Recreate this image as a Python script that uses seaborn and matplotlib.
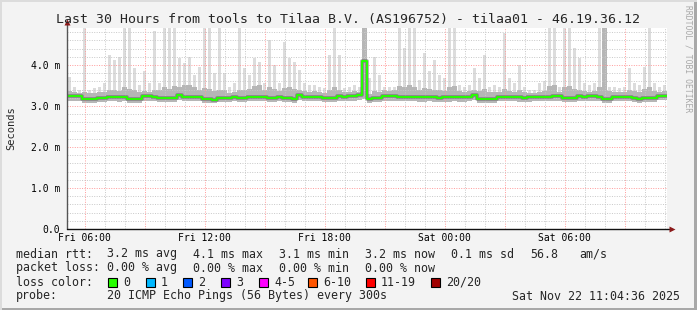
import numpy as np
import pandas as pd
import matplotlib
matplotlib.use("Agg")
import matplotlib.pyplot as plt
from matplotlib.patches import Rectangle
import seaborn as sns

# ---------------- data (ms, 15-minute bins, 30 hours from Fri 05:07) ----------------
rtt_median = [3.24, 3.24, 3.24, 3.17, 3.17, 3.18, 3.20, 3.20, 3.22, 3.22,
              3.21, 3.22, 3.17, 3.17, 3.18, 3.24, 3.24, 3.23, 3.19, 3.19,
              3.20, 3.19, 3.27, 3.22, 3.22, 3.23, 3.22, 3.17, 3.16, 3.15,
              3.19, 3.20, 3.20, 3.21, 3.20, 3.20, 3.23, 3.23, 3.22, 3.23,
              3.20, 3.20, 3.21, 3.20, 3.19, 3.18, 3.27, 3.23, 3.23, 3.22,
              3.23, 3.19, 3.19, 3.20, 3.24, 3.23, 3.24, 3.24, 3.26, 4.10,
              3.18, 3.19, 3.19, 3.25, 3.25, 3.24, 3.23, 3.22, 3.23, 3.22,
              3.21, 3.21, 3.22, 3.21, 3.20, 3.21, 3.21, 3.22, 3.21, 3.21,
              3.22, 3.27, 3.17, 3.17, 3.16, 3.17, 3.23, 3.23, 3.22, 3.22,
              3.21, 3.20, 3.21, 3.23, 3.23, 3.22, 3.23, 3.24, 3.24, 3.19,
              3.19, 3.20, 3.24, 3.23, 3.24, 3.24, 3.23, 3.17, 3.17, 3.23,
              3.22, 3.23, 3.23, 3.19, 3.18, 3.19, 3.19, 3.19, 3.25, 3.25]

rtt_min = [3.12, 3.11, 3.12, 3.07, 3.08, 3.08, 3.10, 3.10, 3.11, 3.11,
           3.10, 3.11, 3.07, 3.07, 3.08, 3.12, 3.12, 3.12, 3.09, 3.09,
           3.10, 3.09, 3.14, 3.11, 3.11, 3.12, 3.11, 3.07, 3.06, 3.06,
           3.09, 3.10, 3.10, 3.11, 3.10, 3.10, 3.12, 3.12, 3.11, 3.12,
           3.10, 3.10, 3.11, 3.10, 3.09, 3.08, 3.14, 3.12, 3.12, 3.11,
           3.12, 3.09, 3.09, 3.10, 3.13, 3.12, 3.13, 3.13, 3.14, 3.17,
           3.08, 3.09, 3.09, 3.13, 3.13, 3.12, 3.12, 3.11, 3.12, 3.11,
           3.10, 3.10, 3.11, 3.10, 3.09, 3.10, 3.10, 3.11, 3.10, 3.10,
           3.11, 3.14, 3.07, 3.07, 3.06, 3.07, 3.12, 3.12, 3.11, 3.11,
           3.10, 3.09, 3.10, 3.12, 3.12, 3.11, 3.12, 3.13, 3.13, 3.09,
           3.09, 3.10, 3.13, 3.12, 3.13, 3.13, 3.12, 3.07, 3.07, 3.12,
           3.11, 3.12, 3.12, 3.09, 3.08, 3.09, 3.09, 3.09, 3.14, 3.14]

rtt_q_hi = [3.36, 3.33, 3.32, 3.34, 3.31, 3.32, 3.33, 3.35, 3.38, 3.40,
            3.36, 3.45, 3.42, 3.38, 3.33, 3.36, 3.34, 3.40, 3.38, 3.45,
            3.42, 3.48, 3.45, 3.50, 3.52, 3.45, 3.40, 3.44, 3.42, 3.36,
            3.40, 3.38, 3.32, 3.34, 3.38, 3.40, 3.42, 3.48, 3.50, 3.40,
            3.45, 3.42, 3.36, 3.44, 3.46, 3.42, 3.40, 3.36, 3.34, 3.36,
            3.33, 3.32, 3.38, 3.45, 3.40, 3.33, 3.34, 3.36, 3.35, 4.95,
            3.30, 3.36, 3.34, 3.38, 3.36, 3.40, 3.48, 3.45, 3.50, 3.46,
            3.40, 3.44, 3.42, 3.40, 3.38, 3.36, 3.45, 3.48, 3.36, 3.34,
            3.36, 3.40, 3.36, 3.42, 3.34, 3.33, 3.34, 3.42, 3.36, 3.34,
            3.38, 3.34, 3.32, 3.31, 3.34, 3.36, 3.48, 3.50, 3.34, 3.45,
            3.48, 3.42, 3.40, 3.36, 3.35, 3.36, 3.45, 4.95, 3.36, 3.34,
            3.33, 3.34, 3.40, 3.36, 3.35, 3.42, 3.46, 3.36, 3.34, 3.36]

rtt_max = [3.71, 3.47, 3.39, 4.95, 3.40, 3.43, 3.47, 3.55, 4.24, 4.12,
           4.20, 4.95, 4.95, 3.92, 3.50, 3.84, 3.55, 4.83, 3.55, 4.95,
           4.95, 4.95, 4.16, 4.04, 4.20, 3.76, 3.96, 4.95, 4.95, 3.80,
           4.95, 3.80, 3.47, 3.55, 4.95, 3.92, 3.76, 4.16, 4.08, 3.55,
           4.61, 4.00, 3.55, 4.57, 4.16, 4.08, 3.88, 3.55, 3.50, 3.50,
           3.47, 3.43, 4.24, 4.95, 4.24, 3.43, 3.47, 3.50, 3.47, 4.95,
           3.68, 4.20, 3.76, 3.47, 3.47, 3.47, 4.95, 4.41, 4.95, 4.95,
           3.63, 4.29, 3.84, 4.12, 3.76, 3.68, 4.95, 4.95, 3.50, 3.47,
           3.50, 3.92, 3.68, 4.24, 3.47, 3.50, 3.47, 4.77, 3.68, 3.55,
           4.00, 3.47, 3.40, 3.40, 3.55, 3.60, 4.95, 4.95, 3.47, 4.95,
           4.95, 4.41, 4.16, 3.55, 3.50, 3.55, 4.95, 4.95, 3.47, 3.47,
           3.43, 3.47, 3.92, 3.55, 3.50, 3.96, 4.95, 3.55, 3.47, 3.50]

start_hour = 5.125          # Fri 05:07, hours since Fri 00:00
bin_hours = 0.25
span_hours = 30

x_tick_hours = [6, 12, 18, 24, 30]
x_tick_labels = ["Fri 06:00", "Fri 12:00", "Fri 18:00", "Sat 00:00", "Sat 06:00"]
y_tick_values = [0, 1, 2, 3, 4]
y_tick_labels = ["0.0", "1.0 m", "2.0 m", "3.0 m", "4.0 m"]

title = "Last 30 Hours from tools to Tilaa B.V. (AS196752) - tilaa01 - 46.19.36.12"
legend_rtt = [("median rtt:", 16), ("3.2 ms avg", 107), ("4.1 ms max", 193),
              ("3.1 ms min", 279), ("3.2 ms now", 365), ("0.1 ms sd", 451),
              ("56.8", 530), ("am/s", 579)]
legend_loss = [("packet loss:", 16), ("0.00 % avg", 107), ("0.00 % max", 193),
               ("0.00 % min", 279), ("0.00 % now", 365)]
loss_labels = ["0", "1", "2", "3", "4-5", "6-10", "11-19", "20/20"]
loss_colors = ["#26ff00", "#00b8ff", "#0059ff", "#7e00ff", "#ff00ff",
               "#ff5500", "#ff0000", "#a10000"]
loss_box_x = [108, 146, 183, 221, 259, 308, 366, 431]
probe_text = "20 ICMP Echo Pings (56 Bytes) every 300s"
stamp_text = "Sat Nov 22 11:04:36 2025"

# ---------------- styling ----------------
sns.set_style("white")
plt.rcParams["font.family"] = ["DejaVu Sans Mono"]

W, H = 697, 310
fig = plt.figure(figsize=(W / 100, H / 100), dpi=100, facecolor="#f3f3f3")
L, R, T, B = 67, 667, 28, 229
ax = fig.add_axes([L / W, 1 - B / H, (R - L) / W, (B - T) / H])
ax.set_facecolor("white")

n = len(rtt_median)
edges = start_hour + bin_hours * np.arange(n + 1)
centers = edges[:-1] + bin_hours / 2

def ext(v):
    v = np.asarray(v, dtype=float)
    return np.append(v, v[-1])

# light smoke: thin columns up to the max ping
mn = np.asarray(rtt_min)
ax.bar(centers, np.asarray(rtt_max) - mn, bottom=mn, width=bin_hours * 0.6,
       color="#dcdcdc", lw=0, zorder=1)
# darker smoke (inner pings), continuous
ax.fill_between(edges, ext(rtt_min), ext(rtt_q_hi), step="post",
                color="#b6b6b6", lw=0, zorder=1.2)

df = pd.DataFrame({"t": edges, "median": ext(rtt_median)})
sns.lineplot(data=df, x="t", y="median", ax=ax, drawstyle="steps-post",
             color="#5a5a5a", lw=2.6, alpha=0.55, zorder=3)
sns.lineplot(data=df, x="t", y="median", ax=ax, drawstyle="steps-post",
             color=loss_colors[0], lw=1.4, zorder=4)

ax.set_xlim(start_hour, start_hour + span_hours)
ax.set_ylim(0, 4.9)

# grid
ax.set_xticks(np.arange(6, 36, 1), minor=True)
ax.set_yticks(np.arange(0, 4.9, 0.2), minor=True)
ax.set_xticks(np.arange(6, 36, 3))
ax.set_yticks(y_tick_values)
ax.set_axisbelow(False)
ax.grid(which="minor", color="#c8c8c8", lw=0.7, ls=(0, (1, 1.5)))
ax.grid(which="major", color="#ff9a9a", lw=0.7, ls=(0, (1, 1.5)))
for gl in ax.get_xgridlines() + ax.get_ygridlines():
    gl.set_zorder(2)

ax.set_xticklabels([x_tick_labels[x_tick_hours.index(h)] if h in x_tick_hours else ""
                    for h in np.arange(6, 36, 3)])
ax.set_yticklabels(y_tick_labels)
ax.tick_params(which="both", length=0)
ax.tick_params(axis="x", pad=3, labelsize=7, colors="#000000")
ax.tick_params(axis="y", pad=5, labelsize=7, colors="#000000")
ax.set_xlabel("")
ax.set_ylabel("")

for s in ["top", "right", "left", "bottom"]:
    ax.spines[s].set_visible(False)

# axis lines with arrows (in axes coords)
ax.plot([0, 0], [0, 1.02], color="#555555", lw=1.0, transform=ax.transAxes,
        clip_on=False, zorder=5)
ax.plot([0, 1.008], [0, 0], color="#111111", lw=1.0, transform=ax.transAxes,
        clip_on=False, zorder=5)
ax.plot([0], [1.03], marker="^", ms=5, color="#8b1a1a", transform=ax.transAxes,
        clip_on=False, zorder=6, mec="none")
ax.plot([1.008], [0], marker=">", ms=5, color="#8b1a1a", transform=ax.transAxes,
        clip_on=False, zorder=6, mec="none")

def px(x, y):
    return x / W, 1 - y / H

fig.text(*px(348, 19), title, ha="center", va="center", fontsize=9.5)
fig.text(*px(11, 128), "Seconds", rotation=90, ha="center", va="center", fontsize=7.5)
fig.text(*px(688, 59), "RRDTOOL / TOBI OETIKER", rotation=270, ha="center",
         va="center", fontsize=5.8, color="#a8a8a8")

fs = 8.35
for txt, x in legend_rtt:
    fig.text(*px(x, 254), txt, ha="left", va="center", fontsize=fs)
for txt, x in legend_loss:
    fig.text(*px(x, 268), txt, ha="left", va="center", fontsize=fs)
fig.text(*px(16, 282), "loss color:", ha="left", va="center", fontsize=fs)
for lab, col, bx in zip(loss_labels, loss_colors, loss_box_x):
    fig.patches.append(Rectangle((bx / W, 1 - 287 / H), 9 / W, 9 / H,
                                 transform=fig.transFigure, facecolor=col,
                                 edgecolor="black", lw=0.8))
    fig.text(*px(bx + 15, 282), lab, ha="left", va="center", fontsize=fs)
fig.text(*px(16, 296), "probe:", ha="left", va="center", fontsize=fs)
fig.text(*px(107, 296), probe_text, ha="left", va="center", fontsize=fs)
fig.text(*px(680, 296), stamp_text, ha="right", va="center", fontsize=fs)

# frame border (3D look)
fig.patches.append(Rectangle((0, 0), 1, 2 / H, transform=fig.transFigure,
                             facecolor="#a8a8a8", lw=0))
fig.patches.append(Rectangle((1 - 3 / W, 0), 3 / W, 1, transform=fig.transFigure,
                             facecolor="#a8a8a8", lw=0))
fig.patches.append(Rectangle((0, 1 - 2 / H), 1, 2 / H, transform=fig.transFigure,
                             facecolor="#dcdcdc", lw=0))
fig.patches.append(Rectangle((0, 0), 2 / W, 1, transform=fig.transFigure,
                             facecolor="#dcdcdc", lw=0))

fig.savefig("out.png", dpi=100, facecolor=fig.get_facecolor())
